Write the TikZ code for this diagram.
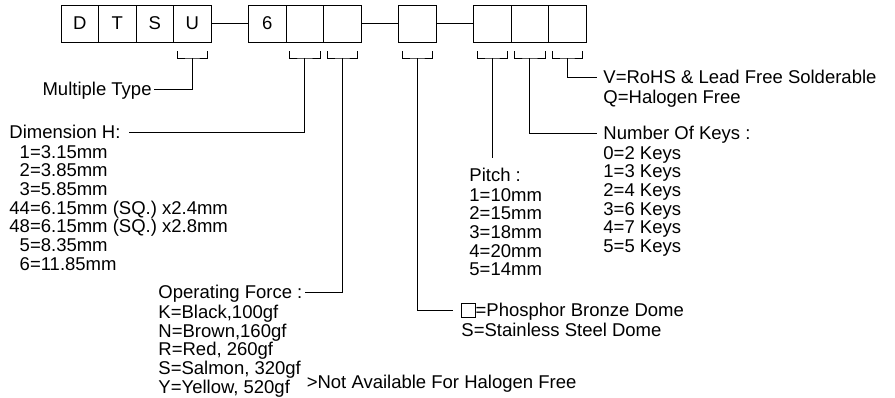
\documentclass[tikz,border=0pt]{standalone}
\usepackage{fontspec}
\setmainfont{Liberation Sans}
\usetikzlibrary{positioning}
\newcommand{\keymark}[1]{\draw ([xshift=3.5pt,yshift=-9pt]#1.south west) |- ([yshift=-16pt]#1.south) -| ([xshift=-3.5pt,yshift=-9pt]#1.south east);}
\newcommand{\blank}{{\fboxsep=0pt\fboxrule=0.6pt\framebox{\rule{0pt}{13pt}\rule{13pt}{0pt}}}}

\begin{document}
\begin{tikzpicture}[x=1pt,y=-1pt,line width=0.9pt,
cell/.style={draw,minimum width=37.5pt,minimum height=37pt,inner sep=0pt,outer sep=0pt,font=\fontsize{18.5pt}{18.7pt}\selectfont},
lbl/.style={inner xsep=2pt,inner ysep=0pt,font=\fontsize{18.5pt}{18.7pt}\selectfont},
hd/.style={lbl,text height=13pt,text depth=0pt},
lst/.style={lbl,align=left}]
\useasboundingbox (0,0) rectangle (895,397);
\node[cell,anchor=north west] (cD) at (61,5) {D};
\node[cell,right=0pt of cD] (cT) {T};
\node[cell,right=0pt of cT] (cS) {S};
\node[cell,right=0pt of cS] (cU) {U};
\node[cell,right=37.5pt of cU] (c6) {6};
\node[cell,right=0pt of c6] (cH) {};
\node[cell,right=0pt of cH] (cF) {};
\node[cell,right=37.5pt of cF] (cM) {};
\node[cell,right=37.5pt of cM] (cP) {};
\node[cell,right=0pt of cP] (cK) {};
\node[cell,right=0pt of cK] (cV) {};
\draw (cU) -- (c6);
\draw (cF) -- (cM);
\draw (cM) -- (cP);
\keymark{cU}
\keymark{cH}
\keymark{cF}
\keymark{cM}
\keymark{cP}
\keymark{cK}
\keymark{cV}
\node[hd,anchor=east] (multi) at (154,89) {Multiple Type};
\node[hd,anchor=west] (dimh) at (7,132) {Dimension H:};
\node[lst,below right=5.7pt and 0pt of dimh.south west] (dimv) {\phantom{4}1=3.15mm\\\phantom{4}2=3.85mm\\\phantom{4}3=5.85mm\\44=6.15mm (SQ.) x2.4mm\\48=6.15mm (SQ.) x2.8mm\\\phantom{4}5=8.35mm\\\phantom{4}6=11.85mm};
\node[hd,anchor=west] (force) at (156,292) {Operating Force :};
\node[lst,below right=5.7pt and 0pt of force.south west] (forcev) {K=Black,100gf\\N=Brown,160gf\\R=Red, 260gf\\S=Salmon, 320gf\\Y=Yellow, 520gf};
\node[lbl,anchor=base west] (nahf) at ([xshift=1pt,yshift=9.5pt]forcev.south east) {>Not Available For Halogen Free};
\node[hd,anchor=west,inner xsep=8pt] (dome) at (453,310) {\blank=Phosphor Bronze Dome};
\node[lst,below right=5.7pt and 6pt of dome.south west] (domev) {S=Stainless Steel Dome};
\node[hd,anchor=west] (pitch) at (467,175) {Pitch :};
\node[lst,below right=5.7pt and 0pt of pitch.south west] (pitchv) {1=10mm\\2=15mm\\3=18mm\\4=20mm\\5=14mm};
\node[hd,anchor=west,inner xsep=6pt] (keys) at (597,133) {Number Of Keys :};
\node[lst,below right=5.7pt and 4pt of keys.south west] (keysv) {0=2 Keys\\1=3 Keys\\2=4 Keys\\3=6 Keys\\4=7 Keys\\5=5 Keys};
\node[hd,anchor=west,inner xsep=6pt] (rohs) at (597,77) {V=RoHS \& Lead Free Solderable};
\node[lst,below right=5.7pt and 4pt of rohs.south west] (rohsv) {Q=Halogen Free};
\coordinate (pitchtop) at ([yshift=10pt]pitch.north);
\draw ([yshift=-16pt]cU.south) |- (multi);
\draw ([yshift=-16pt]cH.south) |- ([xshift=6pt]dimh.east);
\draw ([yshift=-16pt]cF.south) |- (force);
\draw ([yshift=-16pt]cM.south) |- (dome);
\draw ([yshift=-16pt]cP.south) -- (cP.south |- pitchtop);
\draw ([yshift=-16pt]cK.south) |- (keys);
\draw ([yshift=-16pt]cV.south) |- (rohs);
\end{tikzpicture}
\end{document}
